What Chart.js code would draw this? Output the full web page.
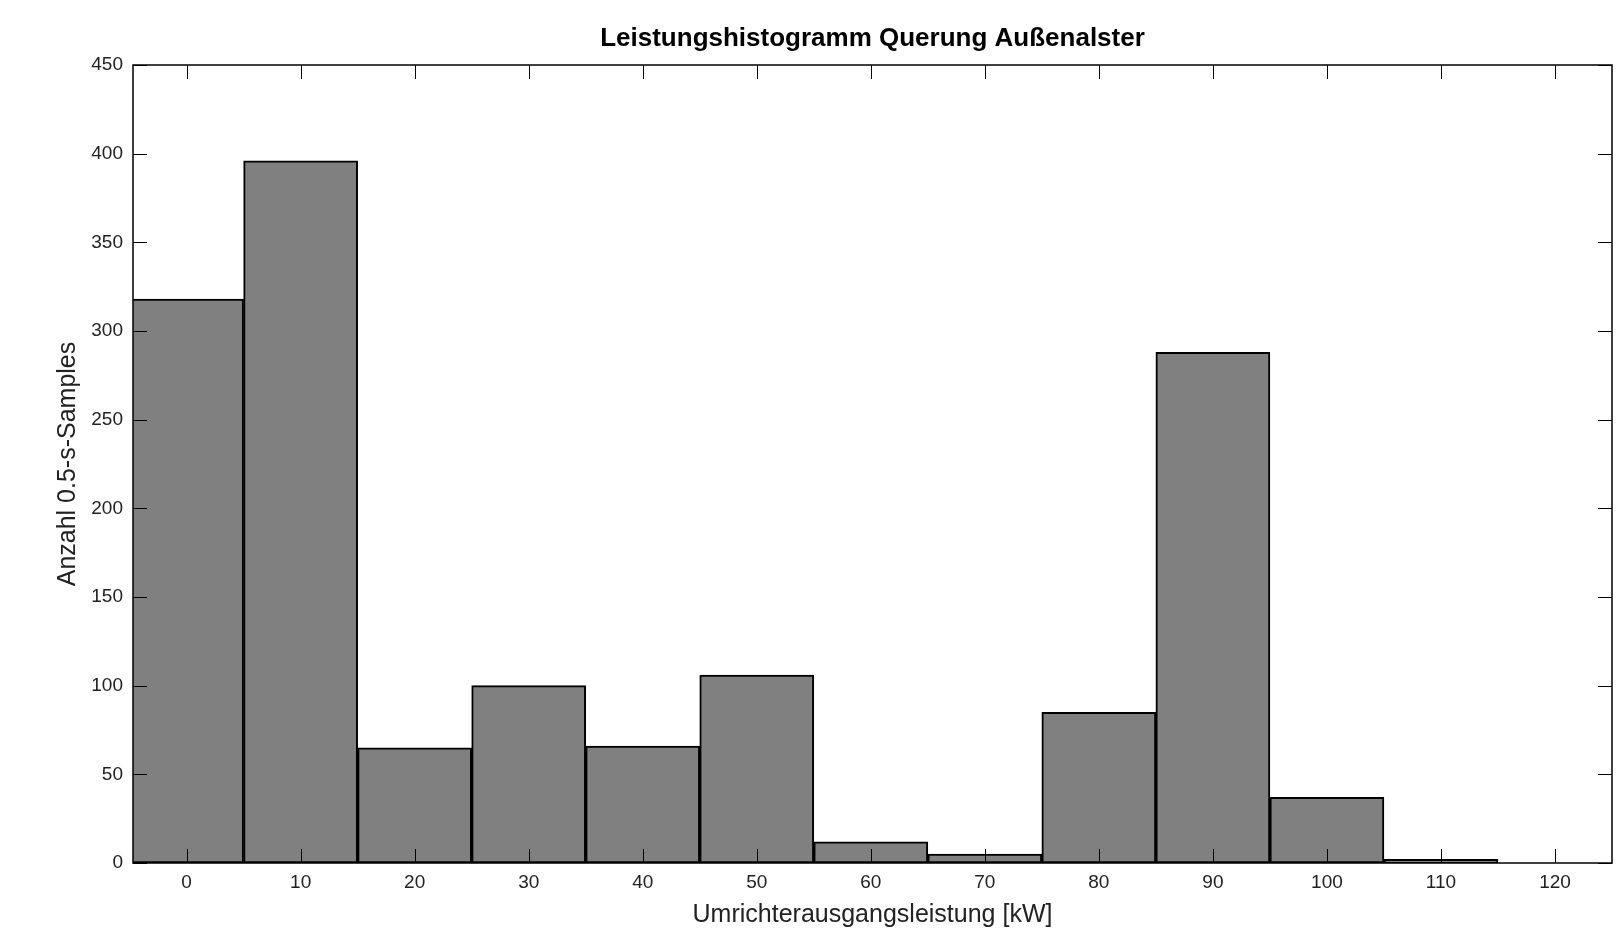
<!DOCTYPE html>
<html lang="de">
<head>
  <meta charset="UTF-8">
  <title>Leistungshistogramm Querung Außenalster</title>
  <script src="https://cdn.jsdelivr.net/npm/chart.js@4.4.1/dist/chart.umd.min.js"></script>
  <style>
    body { margin: 0; padding: 0; background: #fff; overflow: hidden; }
    #wrap { width: 1622px; height: 931px; }
  </style>
</head>
<body>
  <div id="wrap"><canvas id="hist" width="1622" height="931"></canvas></div>

  <script>
    // bin centres in kW and sample counts per bin
    const binCenters = [0, 10, 20, 30, 40, 50, 60, 70, 80, 90, 100, 110, 120];
    const counts = [318, 396, 65, 100, 66, 106, 12, 5, 85, 288, 37, 2, 0];
    const xTicks = [0, 10, 20, 30, 40, 50, 60, 70, 80, 90, 100, 110, 120];
    const yTicks = [0, 50, 100, 150, 200, 250, 300, 350, 400, 450];
    const chartTitle = 'Leistungshistogramm Querung Außenalster';

    const fontFamily = "'Liberation Sans', Arial, sans-serif";

    // MATLAB style box with ticks pointing inwards, title centred over the axes
    const boxTicks = {
      id: 'boxTicks',
      afterDraw(chart) {
        const { ctx, chartArea: a, scales } = chart;
        const len = 14;
        ctx.save();
        ctx.strokeStyle = '#000';
        ctx.lineWidth = 1;
        ctx.beginPath();
        yTicks.forEach(v => {
          const y = Math.round(scales.y.getPixelForValue(v)) + 0.5;
          ctx.moveTo(a.left, y); ctx.lineTo(a.left + len, y);
          ctx.moveTo(a.right, y); ctx.lineTo(a.right - len, y);
        });
        xTicks.forEach(v => {
          const x = Math.round(scales.x.getPixelForValue(v)) + 0.5;
          ctx.moveTo(x, a.bottom); ctx.lineTo(x, a.bottom - len);
          ctx.moveTo(x, a.top); ctx.lineTo(x, a.top + len);
        });
        ctx.stroke();
        ctx.lineWidth = 1.5;
        ctx.strokeRect(a.left, a.top, a.right - a.left, a.bottom - a.top);

        ctx.fillStyle = '#000';
        ctx.font = 'bold 26px ' + fontFamily;
        ctx.textAlign = 'center';
        ctx.textBaseline = 'middle';
        ctx.fillText(chartTitle, (a.left + a.right) / 2, 39);
        ctx.restore();
      }
    };

    new Chart(document.getElementById('hist'), {
      type: 'bar',
      data: {
        datasets: [{
          data: binCenters.map((c, i) => ({ x: c, y: counts[i] })),
          backgroundColor: '#808080',
          borderColor: '#000',
          borderWidth: 2,
          borderSkipped: false,
          barPercentage: 1,
          categoryPercentage: 1
        }]
      },
      options: {
        responsive: false,
        animation: false,
        layout: { padding: { left: 0, right: 10, top: 65, bottom: 0 } },
        plugins: {
          legend: { display: false },
          tooltip: { enabled: false },
          title: { display: false }
        },
        scales: {
          x: {
            type: 'linear',
            offset: false,
            min: -4.7,
            max: 125,
            grid: { display: false, drawTicks: false, offset: false },
            border: { display: false },
            afterBuildTicks: s => { s.ticks = xTicks.map(v => ({ value: v })); },
            afterFit: s => { s.height = 68; },
            ticks: {
              padding: 8,
              color: '#222',
              maxRotation: 0,
              autoSkip: false,
              font: { family: fontFamily, size: 19 }
            },
            title: {
              display: true,
              text: 'Umrichterausgangsleistung [kW]',
              color: '#222',
              font: { family: fontFamily, size: 25 },
              padding: { top: 0, bottom: 1 }
            }
          },
          y: {
            min: 0,
            max: 450,
            grid: { display: false, drawTicks: false },
            border: { display: false },
            afterBuildTicks: s => { s.ticks = yTicks.map(v => ({ value: v })); },
            afterFit: s => { s.width = 133; },
            ticks: {
              padding: 10,
              color: '#222',
              font: { family: fontFamily, size: 19 }
            },
            title: {
              display: true,
              text: 'Anzahl 0.5-s-Samples',
              color: '#222',
              font: { family: fontFamily, size: 25 },
              padding: { top: 53, bottom: 0 }
            }
          }
        }
      },
      plugins: [boxTicks]
    });
  </script>
</body>
</html>
